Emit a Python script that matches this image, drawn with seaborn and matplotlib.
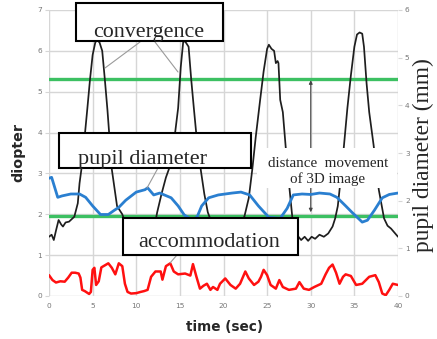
import matplotlib
matplotlib.use("Agg")
import matplotlib.pyplot as plt
import pandas as pd
import seaborn as sns
from matplotlib.patches import Rectangle
from matplotlib.lines import Line2D

# ---------------- data ----------------
conv_t = [0, 0.3, 0.55, 0.8, 1.1, 1.4, 1.6, 1.9, 2.3, 2.6, 2.9, 3.3, 3.5, 3.7, 4.0, 4.4, 4.7, 5.0, 5.3, 5.5,
          5.8, 6.1, 6.4, 6.7, 7.2, 7.8, 8.4, 8.9, 9.5, 10.5, 11.5, 12.0, 12.4, 12.9, 13.4, 13.9, 14.4, 14.8,
          15.1, 15.4, 15.7, 16.0, 16.3, 16.6, 17.0, 17.4, 17.8, 18.2, 18.8, 19.5, 20.5, 21.5, 22.0, 22.4,
          22.9, 23.3, 23.7, 24.2, 24.6, 25.0, 25.2, 25.5, 25.8, 26.0, 26.2, 26.3, 26.5, 26.8, 27.3, 27.9,
          28.4, 28.9, 29.3, 29.7, 30.1, 30.5, 31.0, 31.5, 32.0, 32.5, 32.8, 33.1, 33.6, 34.2, 34.6, 35.0,
          35.3, 35.6, 35.9, 36.1, 36.4, 36.7, 37.2, 37.8, 38.4, 38.8, 39.2, 39.6, 40.0]
conv_v = [1.45, 1.5, 1.37, 1.6, 1.86, 1.75, 1.7, 1.8, 1.82, 1.88, 1.94, 2.27, 2.76, 3.08, 3.7, 4.6, 5.3, 5.9,
          6.2, 6.28, 6.2, 6.0, 5.3, 4.55, 3.1, 2.2, 2.0, 1.7, 1.5, 1.4, 1.45, 1.6, 2.05, 2.5, 2.9, 3.2, 3.9,
          4.6, 5.6, 6.26, 6.2, 6.1, 5.3, 4.6, 3.7, 3.08, 2.5, 2.05, 1.7, 1.5, 1.45, 1.6, 1.8, 1.95, 2.4, 3.1,
          3.9, 4.8, 5.5, 6.05, 6.15, 6.05, 6.0, 5.7, 5.75, 5.7, 4.8, 4.5, 3.2, 1.9, 1.5, 1.37, 1.45, 1.35,
          1.45, 1.4, 1.5, 1.45, 1.53, 1.7, 1.9, 2.2, 3.2, 4.6, 5.4, 6.1, 6.4, 6.45, 6.42, 6.1, 5.2, 4.5, 3.7,
          2.6, 1.9, 1.72, 1.65, 1.55, 1.45]

pupil_t = [0, 0.3, 0.6, 1.0, 1.5, 2.5, 3.5, 4.2, 5.0, 5.9, 6.8, 7.5, 8.0, 8.8, 10.0, 11.0, 11.3, 12.0, 12.7,
           14.0, 14.8, 15.5, 16.5, 17.0, 17.5, 18.3, 19.4, 21.0, 22.0, 23.0, 24.0, 25.2, 26.5, 27.3, 28.0,
           29.0, 30.0, 31.0, 32.2, 33.0, 34.0, 34.7, 35.9, 36.5, 37.3, 38.2, 39.0, 40.0]
pupil_mm = [2.47, 2.49, 2.31, 2.07, 2.1, 2.14, 2.14, 2.07, 1.89, 1.71, 1.71, 1.8, 1.86, 2.01, 2.18, 2.23, 2.27,
            2.12, 2.16, 2.06, 1.89, 1.70, 1.59, 1.67, 1.89, 2.06, 2.12, 2.16, 2.18, 2.12, 1.89, 1.65, 1.63,
            1.84, 2.12, 2.14, 2.13, 2.16, 2.14, 2.07, 1.89, 1.76, 1.55, 1.59, 1.8, 2.06, 2.13, 2.16]

acc_t = [0, 0.4, 0.8, 1.3, 1.8, 2.2, 2.6, 3.0, 3.4, 3.6, 3.8, 4.1, 4.6, 4.8, 5.0, 5.2, 5.4, 5.7, 6.0, 6.4,
         6.8, 7.2, 7.6, 8.0, 8.4, 8.7, 9.0, 9.4, 10.0, 10.5, 10.9, 11.3, 11.7, 12.2, 12.8, 13.0, 13.4, 13.9,
         14.3, 14.8, 15.6, 16.2, 16.5, 16.9, 17.3, 17.7, 18.1, 18.5, 18.8, 19.3, 19.6, 20.2, 20.8, 21.4,
         21.9, 22.5, 22.9, 23.5, 24.0, 24.3, 24.6, 25.0, 25.4, 26.0, 26.4, 26.8, 27.5, 28.3, 28.7, 29.2,
         29.8, 30.4, 31.2, 31.7, 32.1, 32.5, 32.9, 33.3, 33.7, 34.0, 34.6, 35.2, 35.9, 36.7, 37.4, 37.8,
         38.2, 38.6, 39.0, 39.4, 40.0]
acc_v = [0.51, 0.39, 0.33, 0.36, 0.35, 0.45, 0.57, 0.57, 0.55, 0.45, 0.15, 0.12, 0.05, 0.1, 0.64, 0.69,
         0.27, 0.36, 0.7, 0.75, 0.8, 0.69, 0.53, 0.8, 0.73, 0.3, 0.1, 0.06, 0.07, 0.1, 0.12, 0.15, 0.47,
         0.6, 0.6, 0.4, 0.73, 0.8, 0.6, 0.53, 0.55, 0.5, 0.78, 0.47, 0.18, 0.25, 0.3, 0.15, 0.22, 0.15, 0.3,
         0.43, 0.27, 0.18, 0.3, 0.6, 0.43, 0.27, 0.35, 0.47, 0.64, 0.51, 0.27, 0.18, 0.39, 0.22, 0.15, 0.18,
         0.34, 0.18, 0.15, 0.22, 0.3, 0.53, 0.69, 0.77, 0.57, 0.3, 0.47, 0.53, 0.49, 0.27, 0.3, 0.47, 0.51,
         0.34, 0.06, 0.02, 0.15, 0.3, 0.27]

green_levels = [5.3, 1.95]
arrow_x = 30
arrow_span = (5.28, 2.05)
x_ticks = [0, 5, 10, 15, 20, 25, 30, 35, 40]
left_ticks = [0, 1, 2, 3, 4, 5, 6, 7]
right_ticks = [0, 1, 2, 3, 4, 5, 6]

# ---------------- figure ----------------
W, H = 437, 339
sns.set_style("white")
plt.rcParams["font.family"] = ["DejaVu Sans"]
fig = plt.figure(figsize=(W / 100, H / 100), dpi=100)
ax = fig.add_axes([49 / W, 43 / H, 349 / W, 286 / H])
ax2 = ax.twinx()

grid_c = "#d6d6d6"
ax.set_xlim(0, 40)
ax.set_ylim(0, 7)
ax2.set_ylim(0, 6)
ax.set_xticks(x_ticks)
ax.set_yticks(left_ticks)
ax2.set_yticks(right_ticks)
ax.grid(True, color=grid_c, lw=1.0)
ax2.grid(False)
for a in (ax, ax2):
    for s in a.spines.values():
        s.set_visible(False)
ax.tick_params(axis="both", labelsize=5.3, colors="#777777", length=3, width=0.8, pad=2)
ax.tick_params(axis="both", color=grid_c)
ax2.tick_params(axis="y", labelsize=5.3, colors="#777777", length=3, width=0.8, pad=2, color=grid_c)

df_conv = pd.DataFrame({"t": conv_t, "v": conv_v})
df_acc = pd.DataFrame({"t": acc_t, "v": acc_v})
df_pup = pd.DataFrame({"t": pupil_t, "v": pupil_mm})

for lvl in green_levels:
    ax.axhline(lvl, color="#3cc062", lw=2.4, zorder=3)
sns.lineplot(data=df_conv, x="t", y="v", ax=ax, color="#1e1e1e", lw=1.25, estimator=None, zorder=4)
sns.lineplot(data=df_acc, x="t", y="v", ax=ax, color="#ff1010", lw=1.8, estimator=None, zorder=4)
sns.lineplot(data=df_pup, x="t", y="v", ax=ax2, color="#2a7fd0", lw=2.0, estimator=None, zorder=4)

ax.annotate("", xy=(arrow_x, arrow_span[0]), xytext=(arrow_x, arrow_span[1]),
            arrowprops=dict(arrowstyle="<|-|>", color="#444444", lw=0.8, mutation_scale=5,
                            shrinkA=0, shrinkB=0), zorder=5)

ax.set_xlabel("time (sec)", fontsize=9.8, fontweight="bold")
ax.set_ylabel("diopter", fontsize=10.3, fontweight="bold")
ax.xaxis.set_label_coords((224 - 49) / 349, (296 - 320) / 286)
ax.yaxis.set_label_coords((25 - 49) / 349, (296 - 153) / 286)
ax2.set_ylabel("")

# ---------------- annotation boxes (pixel layout) ----------------
def fx(x):
    return x / W

def fy(y):
    return 1 - y / H

serif = ["Liberation Serif", "DejaVu Serif"]

def box(x0, y0, x1, y1, edge=True):
    r = Rectangle((fx(x0), fy(y1)), fx(x1) - fx(x0), fy(y0) - fy(y1), transform=fig.transFigure,
                  facecolor="white", edgecolor="black" if edge else "none", lw=1.5, zorder=5)
    fig.add_artist(r)

def pline(x0, y0, x1, y1):
    fig.add_artist(Line2D([fx(x0), fx(x1)], [fy(y0), fy(y1)], transform=fig.transFigure,
                          color="#9a9a9a", lw=0.8, zorder=4.5))

pline(140, 42, 105, 68)
pline(155, 42, 178, 72)
pline(158, 168, 147, 188)
pline(177, 255, 170, 263)

box(76, 3, 223, 41)
fig.text(fx(149), fy(37), "convergence", family=serif, fontsize=15.8, ha="center", va="baseline", zorder=6)
box(59, 133, 251, 168)
fig.text(fx(142), fy(164), "pupil diameter", family=serif, fontsize=16, ha="center", va="baseline", zorder=6)
box(123, 218, 298, 255)
fig.text(fx(209), fy(247), "accommodation", family=serif, fontsize=16, ha="center", va="baseline", zorder=6)

box(257, 148, 397, 188, edge=False)
fig.text(fx(328), fy(167), "distance  movement", family=serif, fontsize=10.8, ha="center", va="baseline", zorder=6)
fig.text(fx(328), fy(183), "of 3D image", family=serif, fontsize=10.8, ha="center", va="baseline", zorder=6)

fig.text(fx(423), fy(155), "pupil diameter (mm)", family=serif, fontsize=16.8, rotation=90,
         ha="center", va="center", zorder=6)

fig.savefig("out.png", dpi=100)
